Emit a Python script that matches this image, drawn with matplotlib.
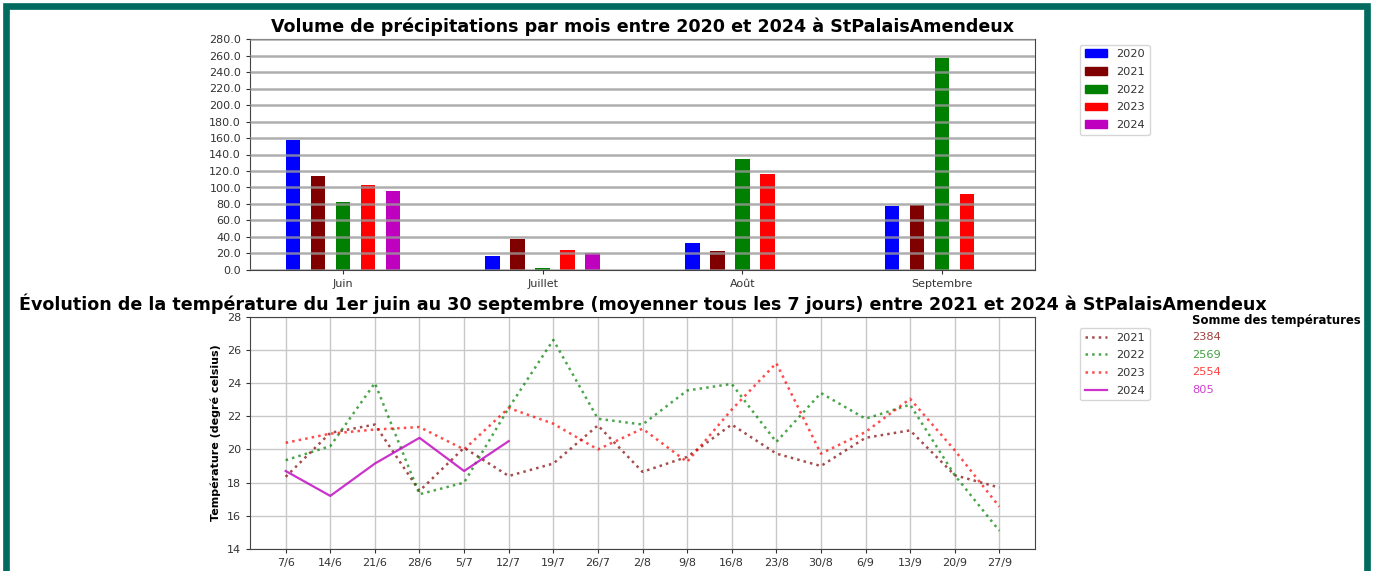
import numpy as np
import matplotlib
matplotlib.use("Agg")
import matplotlib.pyplot as plt
from matplotlib.patches import Patch, Rectangle
import matplotlib.ticker as ticker

# ── Data ──────────────────────────────────────────────────────────────────────
MONTHS = ["Juin", "Juillet", "Août", "Septembre"]
YEARS_RAIN = ["2020", "2021", "2022", "2023", "2024"]
RAIN_COLORS = ["blue", "maroon", "green", "red", "m"]

rain_2020 = [157, 16.5, 33, 78]
rain_2021 = [114, 38, 23, 79]
rain_2022 = [82, 3, 135, 257]
rain_2023 = [103, 24, 116, 92.5]
rain_2024 = [96, 21, 0, 0]

WEEKS = ["7/6", "14/6", "21/6", "28/6", "5/7", "12/7", "19/7", "26/7", "2/8",
         "9/8", "16/8", "23/8", "30/8", "6/9", "13/9", "20/9", "27/9"]

temp_2021 = [18.35, 21.0, 21.5, 17.5, 20.1, 18.4, 19.15, 21.45, 18.65,
             19.55, 21.5, 19.75, 19.0, 20.7, 21.15, 18.45, 17.7]
temp_2022 = [19.35, 20.2, 24.0, 17.3, 18.0, 22.5, 26.6, 21.85, 21.5,
             23.55, 23.95, 20.45, 23.4, 21.85, 22.7, 18.45, 15.1]
temp_2023 = [20.4, 20.95, 21.2, 21.35, 20.0, 22.5, 21.55, 20.0, 21.25,
             19.25, 22.4, 25.2, 19.75, 21.05, 23.05, 19.95, 16.55]
temp_2024 = [18.7, 17.2, 19.15, 20.7, 18.7, 20.5]

SUM_LABELS = ["2384", "2569", "2554", "805"]
TEMP_COLORS = ["maroon", "green", "red", "m"]
YEARS_TEMP = ["2021", "2022", "2023", "2024"]

TEAL = "#006b5e"
TXT = "#333333"

plt.rcParams["font.family"] = "DejaVu Sans"

fig = plt.figure(figsize=(13.77, 5.71), dpi=100, facecolor="white")

# cadre vert autour du graphique
fig.patches.append(Rectangle((6 / 1377, -0.1), (1367 - 6) / 1377, 1.1 - 6 / 571,
                             transform=fig.transFigure, fill=False,
                             edgecolor=TEAL, linewidth=4.8, zorder=0))

# ── Précipitations ────────────────────────────────────────────────────────────
ax1 = fig.add_axes([250 / 1377, 1 - 270 / 571, 785 / 1377, 231 / 571])
x = np.arange(len(MONTHS))
width = 0.073
series = [rain_2020, rain_2021, rain_2022, rain_2023, rain_2024]
for i, (vals, col, lab) in enumerate(zip(series, RAIN_COLORS, YEARS_RAIN)):
    ax1.bar(x + (i - 2) * 0.125, vals, width, color=col, label=lab, zorder=1)

ax1.set_ylim(0, 280)
ax1.yaxis.set_major_locator(ticker.MultipleLocator(20))
ax1.yaxis.set_major_formatter(ticker.FormatStrFormatter("%.1f"))
ax1.set_xticks(x)
ax1.set_xticklabels(MONTHS)
ax1.grid(axis="y", color="#9a9a9a", linewidth=1.8, alpha=0.8, zorder=3)
ax1.set_axisbelow(False)
ax1.tick_params(labelsize=8, colors=TXT, length=3)
for sp in ax1.spines.values():
    sp.set_color("#444444")
ax1.set_title("Volume de précipitations par mois entre 2020 et 2024 à StPalaisAmendeux",
              fontsize=12.6, fontweight="bold", pad=5)
leg1 = ax1.legend(handles=[Patch(color=c, label=l) for c, l in zip(RAIN_COLORS, YEARS_RAIN)],
                  loc="upper left", bbox_to_anchor=(1.05, 1.0), fontsize=8.2,
                  labelspacing=0.68)
for t in leg1.get_texts():
    t.set_color(TXT)

# ── Températures ──────────────────────────────────────────────────────────────
ax2 = fig.add_axes([250 / 1377, 22 / 571, 785 / 1377, 232.3 / 571])
xw = np.arange(len(WEEKS))
ax2.plot(xw, temp_2021, ":", color="maroon", alpha=0.7, linewidth=1.8, label="2021")
ax2.plot(xw, temp_2022, ":", color="green", alpha=0.7, linewidth=1.8, label="2022")
ax2.plot(xw, temp_2023, ":", color="red", alpha=0.7, linewidth=1.8, label="2023")
ax2.plot(xw[:len(temp_2024)], temp_2024, "-", color="m", alpha=0.8, linewidth=1.6, label="2024")

ax2.set_ylim(14, 28)
ax2.yaxis.set_major_locator(ticker.MultipleLocator(2))
ax2.set_xticks(xw)
ax2.set_xticklabels(WEEKS)
ax2.grid(color="#c8c8c8", linewidth=1.0)
ax2.tick_params(labelsize=8, colors=TXT, length=3)
for sp in ax2.spines.values():
    sp.set_color("#444444")
ax2.set_ylabel("Température (degré celsius)", fontsize=8, fontweight="bold")
ax2.set_title("Évolution de la température du 1er juin au 30 septembre (moyenner tous les 7 jours) "
              "entre 2021 et 2024 à StPalaisAmendeux",
              fontsize=12.6, fontweight="bold", pad=5)
leg2 = ax2.legend(loc="upper left", bbox_to_anchor=(1.05, 0.976), fontsize=8.2,
                  labelspacing=0.68)
for t in leg2.get_texts():
    t.set_color(TXT)

ax2.text(1.2, 0.985, "Somme des températures", transform=ax2.transAxes,
         fontsize=8.4, fontweight="bold", va="center", ha="left")
for i, (s, c) in enumerate(zip(SUM_LABELS, TEMP_COLORS)):
    ax2.text(1.2, 0.912 - i * 0.076, s, transform=ax2.transAxes,
             fontsize=8.2, color=c, alpha=0.75, va="center", ha="left")

fig.savefig("out.png", dpi=100, facecolor="white")
